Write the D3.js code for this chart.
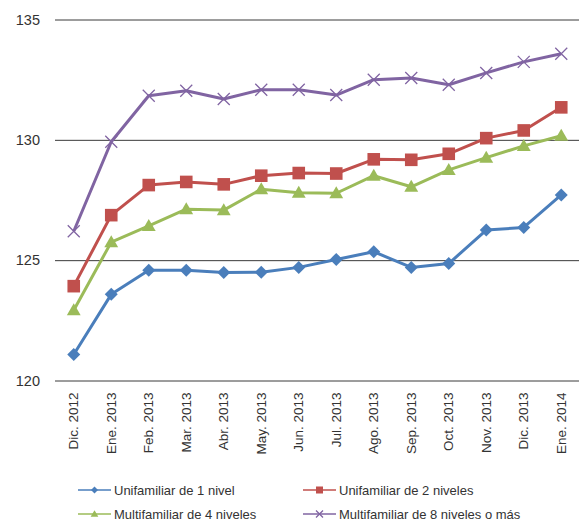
<!DOCTYPE html>
<html>
<head>
<meta charset="utf-8">
<script src="https://cdn.jsdelivr.net/npm/d3@7"></script>
<style>
  html, body { margin: 0; padding: 0; background: #fff; }
  svg text { font-family: "Liberation Sans", Arial, sans-serif; fill: #333; }
</style>
</head>
<body>
<svg id="chart" width="579" height="521"></svg>
<script>
// Months shown on the category axis
const months = ["Dic. 2012", "Ene. 2013", "Feb. 2013", "Mar. 2013", "Abr. 2013", "May. 2013",
  "Jun. 2013", "Jul. 2013", "Ago. 2013", "Sep. 2013", "Oct. 2013", "Nov. 2013", "Dic. 2013", "Ene. 2014"];

// Index values per building type
const unifamiliar1 = [121.08, 123.58, 124.58, 124.58, 124.49, 124.50, 124.70, 125.03, 125.35, 124.70, 124.86, 126.25, 126.36, 127.71];
const unifamiliar2 = [123.92, 126.87, 128.12, 128.25, 128.15, 128.51, 128.62, 128.60, 129.19, 129.17, 129.42, 130.07, 130.39, 131.35];
const multifamiliar4 = [122.92, 125.75, 126.42, 127.12, 127.08, 127.95, 127.80, 127.78, 128.51, 128.05, 128.75, 129.26, 129.75, 130.17];
const multifamiliar8 = [126.20, 129.92, 131.83, 132.04, 131.70, 132.08, 132.08, 131.86, 132.50, 132.57, 132.29, 132.78, 133.24, 133.58];

const yTicks = [120, 125, 130, 135];

const seriesNames = ["Unifamiliar de 1 nivel", "Unifamiliar de 2 niveles",
  "Multifamiliar de 4 niveles", "Multifamiliar de 8 niveles o más"];

const series = [
  { name: seriesNames[0], values: unifamiliar1, color: "#4A7EBB", marker: "diamond", size: 6.5 },
  { name: seriesNames[1], values: unifamiliar2, color: "#C0504D", marker: "square", size: 6.3 },
  { name: seriesNames[2], values: multifamiliar4, color: "#9BBB59", marker: "triangle", size: 6.3 },
  { name: seriesNames[3], values: multifamiliar8, color: "#8064A2", marker: "cross", size: 6 }
];

const svg = d3.select("#chart");
const plot = { left: 55, right: 580, top: 19.5, bottom: 380.5 };

const x = d3.scaleBand().domain(months).range([plot.left, plot.right]);
const y = d3.scaleLinear().domain([120, 135]).range([plot.bottom, plot.top]);
const cx = d => x(d) + x.bandwidth() / 2;

// Horizontal gridlines with value labels
const yAxis = d3.axisLeft(y).tickValues(yTicks).tickSize(-(plot.right - plot.left)).tickPadding(15);
const gy = svg.append("g").attr("transform", `translate(${plot.left},0)`).call(yAxis);
gy.select(".domain").remove();
gy.selectAll(".tick line").attr("stroke", "#3a3a3a").attr("stroke-width", 1);
gy.selectAll(".tick text").attr("font-size", 14.5).attr("fill", "#333")
  .style("font-family", "'Liberation Sans', Arial, sans-serif");

// Rotated month labels
const xAxis = d3.axisBottom(x).tickSize(0).tickPadding(0);
const gx = svg.append("g").attr("transform", `translate(0,${plot.bottom})`).call(xAxis);
gx.select(".domain").remove();
gx.selectAll(".tick text")
  .attr("font-size", 13.5)
  .attr("fill", "#333")
  .style("font-family", "'Liberation Sans', Arial, sans-serif")
  .attr("text-anchor", "end")
  .attr("transform", "rotate(-90)")
  .attr("x", -12)
  .attr("y", 0)
  .attr("dy", "0.35em");

function drawMarker(g, type, color, s) {
  if (type === "diamond") {
    g.append("path").attr("d", `M0,${-s}L${s},0L0,${s}L${-s},0Z`).attr("fill", color);
  } else if (type === "square") {
    g.append("rect").attr("x", -s).attr("y", -s).attr("width", 2 * s).attr("height", 2 * s)
      .attr("fill", color);
  } else if (type === "triangle") {
    g.append("path").attr("d", `M0,${-s * 1.1}L${s * 1.1},${s * 0.8}L${-s * 1.1},${s * 0.8}Z`).attr("fill", color);
  } else if (type === "cross") {
    g.append("path").attr("d", `M${-s},${-s}L${s},${s}M${-s},${s}L${s},${-s}`)
      .attr("stroke", color).attr("stroke-width", 1.3).attr("fill", "none");
  }
}

const line = d3.line().x((d, i) => cx(months[i])).y(d => y(d));

series.forEach(s => {
  const g = svg.append("g");
  g.append("path").datum(s.values).attr("d", line)
    .attr("fill", "none").attr("stroke", s.color).attr("stroke-width", 3)
    .attr("stroke-linejoin", "round");
  s.values.forEach((v, i) => {
    const m = g.append("g").attr("transform", `translate(${cx(months[i])},${y(v)})`);
    drawMarker(m, s.marker, s.color, s.size);
  });
});

// Legend in two columns
const legendPos = [[78, 490], [303, 490], [78, 514], [303, 514]];
series.forEach((s, i) => {
  const [lx, ly] = legendPos[i];
  const g = svg.append("g").attr("transform", `translate(${lx},${ly})`);
  g.append("line").attr("x1", 0).attr("x2", 33).attr("y1", 0).attr("y2", 0)
    .attr("stroke", s.color).attr("stroke-width", 1.5);
  const m = g.append("g").attr("transform", "translate(16.5,0)");
  drawMarker(m, s.marker, s.color, 3.5);
  g.append("text").attr("x", 36).attr("y", 0).attr("dy", "0.35em")
    .attr("font-size", 13).text(s.name);
});
</script>
</body>
</html>
